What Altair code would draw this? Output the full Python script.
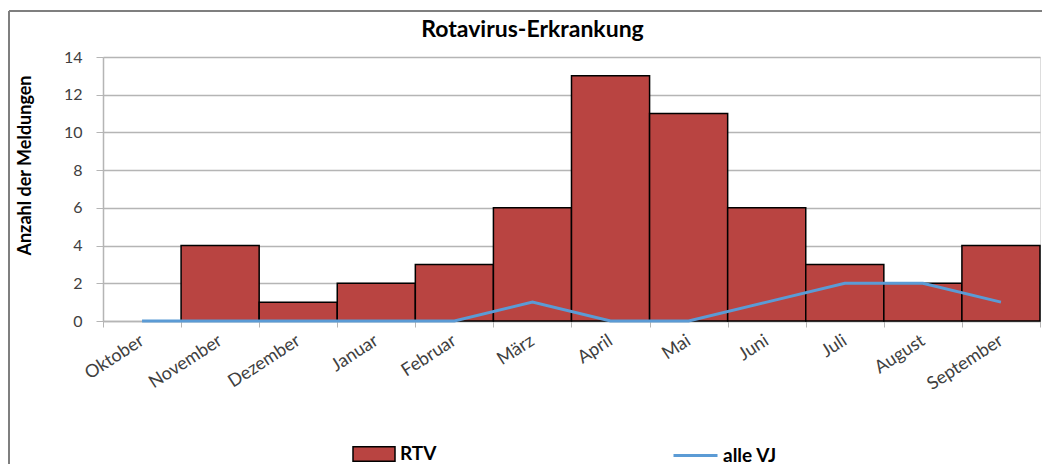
import altair as alt
import pandas as pd

months = ["Oktober", "November", "Dezember", "Januar", "Februar", "März",
          "April", "Mai", "Juni", "Juli", "August", "September"]
rtv = [0, 4, 1, 2, 3, 6, 13, 11, 6, 3, 2, 4]
alle_vj = [0, 0, 0, 0, 0, 1, 0, 0, 1, 2, 2, 1]
y_ticks = [0, 2, 4, 6, 8, 10, 12, 14]

df = pd.DataFrame({"Monat": months, "RTV": rtv, "alleVJ": alle_vj})

FONT = "Lato"
GRAY = "#404040"
GRID = "#b5b5b5"

x_axis = alt.Axis(labelAngle=-33, labelAlign="right", labelBaseline="middle",
                  labelPadding=12, labelFontSize=18, labelColor=GRAY, labelFont=FONT,
                  tickBand="extent", tickColor=GRID, tickSize=6, domainColor=GRID,
                  domainWidth=1.5, grid=False, labelOverlap=False, title=None)
x_scale = alt.Scale(paddingInner=0, paddingOuter=0)
y_scale = alt.Scale(domain=[0, 14], nice=False)
y_axis = alt.Axis(values=y_ticks, title="Anzahl der Meldungen",
                  titleFont=FONT, titleFontSize=18, titleFontWeight="bold",
                  titleColor="#000000", titleX=-78, titleY=108, titleAngle=-90,
                  titleAlign="center", titleBaseline="middle",
                  labelFontSize=16, labelColor=GRAY, labelFont=FONT, labelPadding=14,
                  gridColor=GRID, gridWidth=1.5, domainColor=GRID, domainWidth=1.5,
                  tickColor=GRID, tickSize=7, labelOverlap=False)

bars = alt.Chart(df).transform_filter("datum.RTV > 0").transform_calculate(
    Serie="'RTV'"
).mark_bar(stroke="black", strokeWidth=1.5).encode(
    x=alt.X("Monat:N", sort=months, scale=x_scale, axis=x_axis),
    y=alt.Y("RTV:Q", scale=y_scale, axis=y_axis),
    color=alt.Color("Serie:N", scale=alt.Scale(domain=["RTV"], range=["#b94441"]),
                    legend=alt.Legend(title=None, orient="none", legendX=249, legendY=375,
                                      symbolType="M-1,-0.34L1,-0.34L1,0.34L-1,0.34Z",
                                      symbolSize=1764, symbolStrokeColor="black",
                                      symbolStrokeWidth=1.5, labelFont=FONT,
                                      labelFontSize=19, labelFontWeight="bold",
                                      labelColor="#000000", labelOffset=4)),
)

line = alt.Chart(df).transform_calculate(Serie2="'alle VJ'").mark_line(
    strokeWidth=3
).encode(
    x=alt.X("Monat:N", sort=months, scale=x_scale, axis=x_axis),
    y=alt.Y("alleVJ:Q", scale=y_scale, axis=y_axis),
    color=alt.Color("Serie2:N", scale=alt.Scale(domain=["alle VJ"], range=["#5b9bd5"]),
                    legend=alt.Legend(title=None, orient="none", legendX=569, legendY=375,
                                      symbolType="stroke", symbolSize=1936,
                                      symbolStrokeWidth=3, labelFont=FONT,
                                      labelFontSize=19, labelFontWeight="bold",
                                      labelColor="#000000", labelOffset=4)),
)

frame_top = alt.Chart(df).mark_rule(color="#7f7f7f", strokeWidth=2).encode(
    x=alt.value(-94), x2=alt.value(960), y=alt.value(-46))
frame_left = alt.Chart(df).mark_rule(color="#7f7f7f", strokeWidth=2).encode(
    x=alt.value(-94), y=alt.value(-46), y2=alt.value(420))

chart = alt.layer(bars, line, frame_top, frame_left).resolve_scale(
    color="independent"
).properties(
    width=937, height=264,
    title=alt.TitleParams("Rotavirus-Erkrankung", font=FONT, fontSize=23,
                          fontWeight="bold", color="#000000", dx=-39, dy=44, offset=12),
    autosize=alt.AutoSizeParams(type="none"),
    padding={"left": 95, "top": 49, "right": 2, "bottom": 150},
).configure_view(stroke=None).configure(background="white")

chart.save("out.html", embed_options={"renderer": "svg", "actions": False})
